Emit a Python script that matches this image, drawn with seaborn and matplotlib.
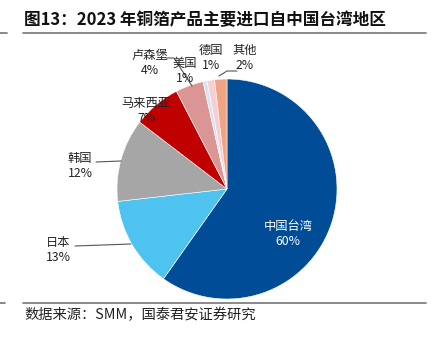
import matplotlib
matplotlib.use("Agg")
import matplotlib.pyplot as plt
from matplotlib.lines import Line2D
import seaborn as sns

# ---- data ----
regions = ["中国台湾", "日本", "韩国", "马来西亚", "卢森堡", "美国", "德国", "其他"]
shares = [59.8, 13.4, 12.2, 7.0, 4.1, 0.6, 1.1, 1.8]
colors = ["#004C97", "#4FC3F0", "#A6A6A6", "#C00000", "#D99694", "#D5E2F2", "#F8CDD3", "#F0A486"]
title = "图13：2023 年铜箔产品主要进口自中国台湾地区"
source = "数据来源：SMM，国泰君安证券研究"

sns.set_style("white")
plt.rcParams['font.family'] = ['Noto Sans CJK SC', 'DejaVu Sans']

W, H = 439, 339
fig = plt.figure(figsize=(W / 100, H / 100), dpi=100)

cx, cy, R = 227, 189, 110
ax = fig.add_axes([(cx - R) / W, (H - cy - R) / H, 2 * R / W, 2 * R / H])
wedges, _ = ax.pie(shares, colors=colors, startangle=90, counterclock=False,
                   radius=1, wedgeprops=dict(edgecolor="white", linewidth=0.4))
ax.set_xlim(-1, 1)
ax.set_ylim(-1, 1)
ax.set_aspect("equal")
ax.axis("off")

def d(px, py):
    return ((px - cx) / R, (cy - py) / R)

total = sum(shares)
labels = [f"{r}\n{round(v / total * 100):d}%" for r, v in zip(regions, shares)]

label_pos = [(288, 234), (58, 250), (80, 166), (146, 111), (150, 63), (185, 71), (211, 58), (245, 58)]
for i, (lab, (px, py)) in enumerate(zip(labels, label_pos)):
    x, y = d(px, py)
    ax.text(x, y, lab, ha="center", va="center", fontsize=8.8,
            color="white" if i == 0 else "#222222", linespacing=1.15, clip_on=False)

leaders = [
    [(75, 246), (131, 244)],
    [(96, 162), (121, 161)],
    [(166, 58), (174, 58), (192, 86)],
    [(237, 71), (227, 71), (219, 76)],
]
for pts in leaders:
    xs, ys = zip(*[d(px, py) for px, py in pts])
    ax.plot(xs, ys, color="#555555", lw=0.8, clip_on=False)

def fx(px):
    return px / W

def fy(py):
    return 1 - py / H

fig.text(fx(24), fy(20), title, fontsize=12.0, fontweight="bold", ha="left", va="center", color="#111111")
fig.add_artist(Line2D([fx(23), fx(426)], [fy(33), fy(33)], color="#808080", lw=1.3))
fig.add_artist(Line2D([fx(0), fx(7)], [fy(33), fy(33)], color="#808080", lw=1.3))
fig.add_artist(Line2D([fx(23), fx(426)], [fy(303), fy(303)], color="#808080", lw=1.3))
fig.add_artist(Line2D([fx(0), fx(5)], [fy(303), fy(303)], color="#808080", lw=1.3))
fig.text(fx(24), fy(315), source, fontsize=10.3, ha="left", va="center", color="#222222")

fig.savefig("out.png", dpi=100)
